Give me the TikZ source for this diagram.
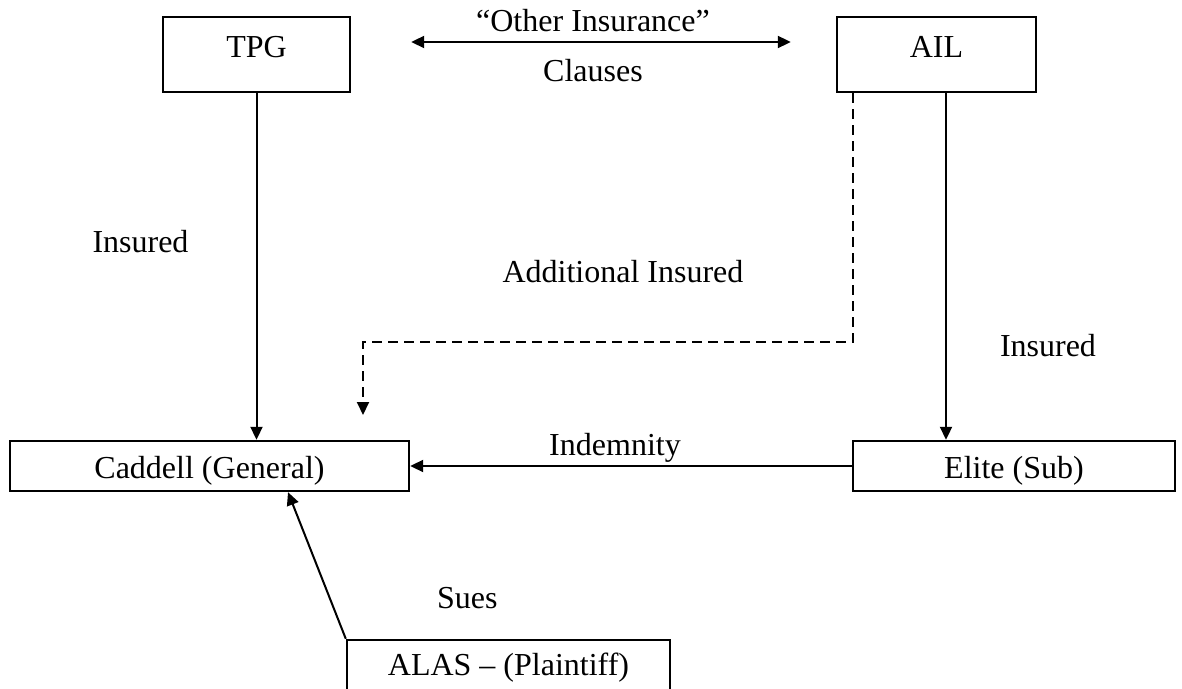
\documentclass[tikz,border=0pt]{standalone}
\usepackage{fontspec}
\setmainfont{Liberation Serif}
\usepackage{tikz}
\usetikzlibrary{arrows.meta}
\tikzstyle{party} = [rectangle, line width=1.2pt, draw=black, inner sep=0pt, minimum height=25pt, text depth=0pt, text height=12.5pt]
\tikzstyle{insurer} = [party, minimum height=37.5pt, text height=11pt, text depth=7.5pt]
\tikzstyle{arrow} = [line width=1pt,->,>={Triangle[length=6.5pt,width=6pt]}]
\tikzstyle{dasharrow} = [arrow, dash pattern=on 5pt off 3pt]
\tikzstyle{both} = [arrow, <->]

\begin{document}
\begin{tikzpicture}[x=0.5pt, y=-0.5pt, font=\fontsize{16}{19}\selectfont]
\useasboundingbox (0,0) rectangle (1182,689);
\clip (0,0) rectangle (1182,689);

\node (tpg) [insurer, minimum width=93.5pt] at (256.5,54.5) {TPG};
\node (ail) [insurer, minimum width=99.5pt] at (936.5,54.5) {AIL};
\node (caddell) [party, minimum width=199.5pt] at (209.5,466) {Caddell (General)};
\node (elite) [party, minimum width=161pt] at (1014,466) {Elite (Sub)};
\node (alas) [party, minimum width=161.5pt, text height=10pt] at (508.5,665) {ALAS – (Plaintiff)};

\coordinate (bend) at (363,342);
\coordinate (addtip) at (363,415);

\draw [both] ([xshift=30pt,yshift=6.25pt]tpg.east) -- node[midway, anchor=base, xshift=-4pt, yshift=5pt] {“Other Insurance”} node[midway, anchor=base, xshift=-4pt, yshift=-20pt] {Clauses} ([xshift=-22.5pt,yshift=6.25pt]ail.west);
\draw [arrow] (tpg.south) -- node[pos=0.46, anchor=base, xshift=-58pt] {Insured} (tpg.south |- caddell.north);
\draw [arrow] ([xshift=4.75pt]ail.south) -- node[pos=0.76, anchor=base, xshift=51pt] {Insured} ([xshift=4.75pt]ail.south |- elite.north);
\draw [dasharrow] ([xshift=-41.75pt]ail.south) |- node[pos=0.75, anchor=base, xshift=7.5pt, yshift=29.5pt] {Additional Insured} (bend) -- (addtip);
\draw [arrow] (elite.west) -- node[midway, anchor=base, xshift=-8pt, yshift=5.5pt] {Indemnity} (caddell.east);
\draw [arrow] (alas.north west) -- node[midway, anchor=base, xshift=75.25pt, yshift=-21.25pt] {Sues} ([xshift=39.25pt]caddell.south);

\end{tikzpicture}
\end{document}
